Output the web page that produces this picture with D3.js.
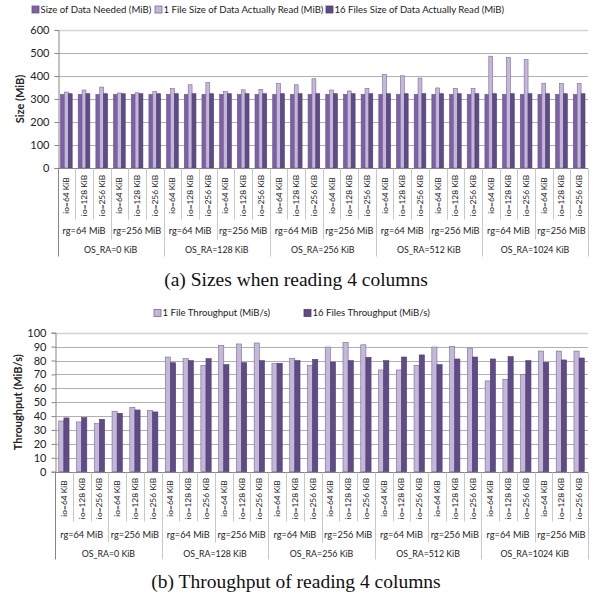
<!DOCTYPE html>
<html><head><meta charset="utf-8">
<script src="https://cdn.jsdelivr.net/npm/d3@7"></script>
<style>html,body{margin:0;padding:0;background:#fff;}svg{display:block;}</style>
</head><body>
<script>
// ---------- data ----------
const osRA = ["OS_RA=0 KiB","OS_RA=128 KiB","OS_RA=256 KiB","OS_RA=512 KiB","OS_RA=1024 KiB"];
const rgLabels = ["rg=64 MiB","rg=256 MiB"];
const ioLabels = ["io=64 KiB","io=128 KiB","io=256 KiB"];

const sizeSeries = ["Size of Data Needed (MiB)","1 File Size of Data Actually Read (MiB)","16 Files Size of Data Actually Read (MiB)"];
const sizeNeeded = [320,320,320,320,320,320, 320,320,320,320,320,320, 320,320,320,320,320,320, 320,320,320,320,320,320, 320,320,320,320,320,320];
const sizeOneFile = [330,339,352,326,327,332, 345,362,371,332,340,342, 367,362,388,339,335,346, 406,401,391,348,346,345, 486,480,471,368,367,367];
const sizeSixteen = [323,323,323,323,323,323, 323,323,323,323,323,323, 323,323,323,323,323,323, 323,323,323,323,323,323, 323,323,323,323,323,323];
const sizeTicks = [0,100,200,300,400,500,600];

const tputSeries = ["1 File Throughput (MiB/s)","16 Files Throughput (MiB/s)"];
const tputOneFile = [36.5,35.8,34.6,43.5,46.3,44, 82.5,81.3,76.5,90.9,91.9,92.6, 77.7,81.6,76.5,89.7,93,91.3, 73.2,73.2,76.5,89.7,90.2,89, 65.3,66.5,69.8,86.8,86.8,86.8];
const tputSixteen = [38.7,38.9,37.7,42,44.4,43, 78.4,79.9,81.3,77,78.4,79.9, 78,79.9,80.8,78.9,79.9,82.3, 79.9,82.5,84,77,81.1,82.5, 81.1,82.8,79.9,78.7,80.4,81.8];
const tputTicks = [0,10,20,30,40,50,60,70,80,90,100];

// ---------- build ----------
const W = 592, H = 595;
const FONT = "Lato, 'Open Sans', sans-serif";
const svg = d3.select("body").append("svg").attr("width", W).attr("height", H)
  .style("font-family", FONT);

const cats = [];
osRA.forEach((o,oi)=>rgLabels.forEach((r,ri)=>ioLabels.forEach((io,ii)=>cats.push({key:`${oi}-${ri}-${ii}`, o:oi, r:ri, i:ii}))));

function drawChart(cfg){
  const g = svg.append("g");
  const x = d3.scaleBand().domain(cats.map(c=>c.key)).range([cfg.x0, cfg.x1]).paddingInner(cfg.pad).paddingOuter(cfg.pad/2);
  const xs = d3.scaleBand().domain(cfg.series.map((s,i)=>i)).range([0, x.bandwidth()]);
  const y = d3.scaleLinear().domain([0, cfg.max]).range([cfg.yBottom, cfg.yTop]);

  g.append("g").selectAll("line").data(cfg.ticks.filter(t=>t>0)).join("line")
    .attr("x1", cfg.x0).attr("x2", cfg.x1)
    .attr("y1", d=>Math.round(y(d))+0.5).attr("y2", d=>Math.round(y(d))+0.5)
    .attr("stroke", d=> d===cfg.max ? "#d4d4d4" : "#b0b0b0")
    .attr("stroke-width", d=> d===cfg.max ? 1.6 : 1);

  cfg.series.forEach((s,si)=>{
    g.append("g").selectAll("rect").data(cfg.values[si]).join("rect")
      .attr("x", (d,i)=>x(cats[i].key)+xs(si))
      .attr("width", xs.bandwidth())
      .attr("y", d=>y(d))
      .attr("height", d=>y(0)-y(d))
      .attr("fill", cfg.colors[si])
      .attr("stroke", cfg.strokes[si]).attr("stroke-width", 0.6);
  });

  const ya = d3.axisLeft(y).tickValues(cfg.ticks).tickSize(4).tickPadding(5);
  const yg = g.append("g").attr("transform", `translate(${Math.round(cfg.x0)+0.5},0)`).call(ya);
  yg.select(".domain").attr("stroke", "#868686");
  yg.selectAll(".tick line").attr("stroke", "#868686");
  yg.selectAll(".tick text").attr("font-size", cfg.tickFont).attr("fill", "#222").style("font-family", FONT);

  const yb = Math.round(y(0))+0.5;
  g.append("line").attr("x1", cfg.x0).attr("x2", cfg.x1).attr("y1", yb).attr("y2", yb).attr("stroke", "#868686");

  const left = cfg.x0;
  const span = (cfg.x1-cfg.x0)/cats.length;
  const sepColor = "#c8c8c8";
  const bounds = d3.range(cats.length+1).map(k=>{
    const xx = Math.round(left + k*span)+0.5;
    let depth = cfg.ioSep;
    if (k % 3 === 0) depth = cfg.rgSep;
    if (k % 6 === 0) depth = cfg.osSep;
    return {xx, depth};
  });
  g.append("g").selectAll("line").data(bounds).join("line")
    .attr("x1", d=>d.xx).attr("x2", d=>d.xx)
    .attr("y1", yb).attr("y2", d=>yb+d.depth)
    .attr("stroke", (d,k)=> k===0 ? "#868686" : sepColor);

  g.append("g").selectAll("text").data(cats).join("text")
    .attr("transform", d=>`translate(${x(d.key)+x.bandwidth()/2+3},${yb+cfg.ioMid}) rotate(-90)`)
    .attr("text-anchor", "middle")
    .attr("font-size", cfg.ioFont).attr("fill", "#222")
    .text(d=>ioLabels[d.i]);
  const rgData = [];
  osRA.forEach((o,oi)=>rgLabels.forEach((r,ri)=>rgData.push({label:r, idx: oi*2+ri})));
  g.append("g").selectAll("text").data(rgData).join("text")
    .attr("x", d=>left + (d.idx*3+1.5)*span)
    .attr("y", yb+cfg.rgMid).attr("dy", "0.35em")
    .attr("text-anchor", "middle").attr("font-size", cfg.rgFont).attr("fill", "#222")
    .text(d=>d.label);
  g.append("g").selectAll("text").data(osRA).join("text")
    .attr("x", (d,i)=>left + (i*6+3)*span)
    .attr("y", yb+cfg.osMid).attr("dy", "0.35em")
    .attr("text-anchor", "middle").attr("font-size", cfg.osFont).attr("fill", "#222")
    .text(d=>d);

  g.append("text")
    .attr("transform", `translate(${cfg.titleX},${(cfg.yTop+cfg.yBottom)/2}) rotate(-90)`)
    .attr("text-anchor", "middle").attr("dy", "0.35em")
    .attr("font-size", cfg.titleFont).attr("font-weight", "bold").attr("fill", "#222")
    .text(cfg.title);

  const lg = g.append("g");
  cfg.series.forEach((s,si)=>{
    const lx = cfg.legendX[si];
    lg.append("rect").attr("x", lx).attr("y", cfg.legendY-3.5).attr("width", 7).attr("height", 7)
      .attr("fill", cfg.colors[si]).attr("stroke", cfg.strokes[si]).attr("stroke-width", 0.8);
    lg.append("text").attr("x", lx+8.5).attr("y", cfg.legendY).attr("dy", "0.35em")
      .attr("font-size", cfg.legendFont).attr("fill", "#222").text(s);
  });

  svg.append("text").attr("x", W/2).attr("y", cfg.capY).attr("text-anchor", "middle")
    .style("font-family", "'Liberation Serif', 'Times New Roman', serif")
    .attr("font-size", 19.5).attr("fill", "#111").text(cfg.caption);
}

drawChart({
  series: sizeSeries, values: [sizeNeeded, sizeOneFile, sizeSixteen],
  colors: ["#7c62a4", "#c4b8d8", "#5f4b86"],
  strokes: ["#6a5192", "#7d659f", "#4f3c74"],
  x0: 57.5, x1: 588, pad: 0.34, max: 600, yTop: 30, yBottom: 168, ticks: sizeTicks,
  tickFont: 11, ioFont: 8.4, rgFont: 9.2, osFont: 8.8, titleFont: 11, legendFont: 9.6,
  ioMid: 27, ioSep: 51, rgMid: 62, rgSep: 71, osMid: 81, osSep: 88,
  title: "Size (MiB)", titleX: 20,
  legendX: [32, 155, 326], legendY: 9.5,
  caption: "(a)  Sizes when reading 4 columns", capY: 286
});

drawChart({
  series: tputSeries, values: [tputOneFile, tputSixteen],
  colors: ["#c4b8d8", "#5f4b86"],
  strokes: ["#7d659f", "#4f3c74"],
  x0: 55, x1: 588, pad: 0.42, max: 100, yTop: 332.7, yBottom: 471.7, ticks: tputTicks,
  tickFont: 11, ioFont: 8.4, rgFont: 9.2, osFont: 8.8, titleFont: 11, legendFont: 9.6,
  ioMid: 26, ioSep: 49, rgMid: 62, rgSep: 70, osMid: 81, osSep: 87,
  title: "Throughput (MiB/s)", titleX: 18,
  legendX: [154, 304], legendY: 313,
  caption: "(b)  Throughput of reading 4 columns", capY: 588
});
</script>
</body></html>
